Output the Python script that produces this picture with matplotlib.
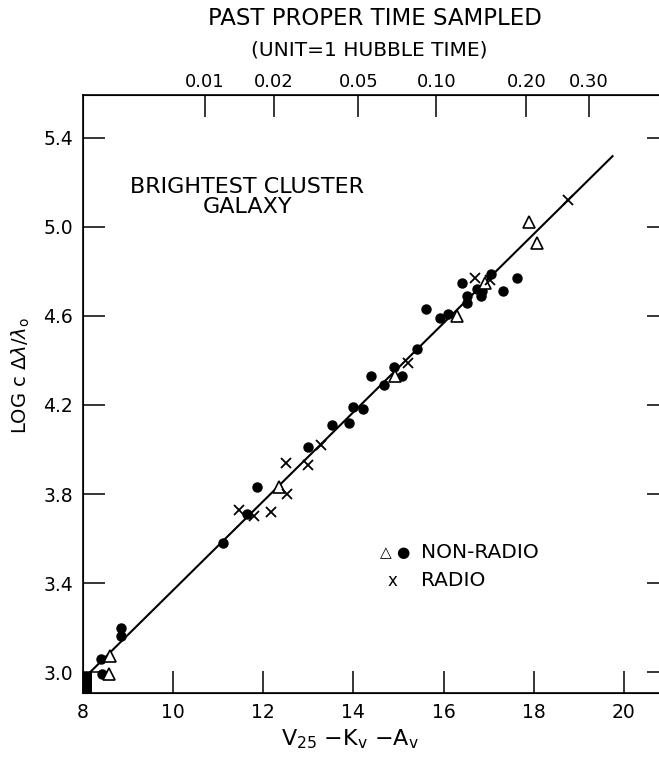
"""
Hubble diagram for brightest cluster galaxies: log cz versus corrected magnitude.
"""

import matplotlib

matplotlib.use("Agg")
import matplotlib.pyplot as plt
from matplotlib.patches import Rectangle

# Non-radio galaxies, filled circles
dots_x = [8.39, 8.42, 8.84, 8.84, 11.10, 11.64, 11.87, 13.00, 13.53, 13.91, 14.00, 14.22,
          14.40, 14.67, 14.89, 15.07, 15.42, 15.60, 15.93, 16.09, 16.42, 16.51, 16.53,
          16.75, 16.82, 16.86, 17.06, 17.31, 17.62]
dots_y = [3.06, 2.99, 3.20, 3.16, 3.58, 3.71, 3.83, 4.01, 4.11, 4.12, 4.19, 4.18,
          4.33, 4.29, 4.37, 4.33, 4.45, 4.63, 4.59, 4.61, 4.75, 4.69, 4.66,
          4.72, 4.69, 4.71, 4.79, 4.71, 4.77]

# Non-radio galaxies, open triangles
tri_x = [8.60, 8.58, 12.34, 14.93, 16.29, 16.93, 17.89, 18.07]
tri_y = [3.07, 2.99, 3.83, 4.33, 4.60, 4.75, 5.02, 4.93]

# Radio galaxies, crosses
radio_x = [11.45, 11.80, 12.16, 12.53, 12.51, 13.00, 13.27, 15.22, 16.69, 17.04, 18.76]
radio_y = [3.73, 3.70, 3.72, 3.80, 3.94, 3.93, 4.02, 4.39, 4.77, 4.76, 5.12]

# Fitted line, slope 0.2
fit_x = [8.15, 19.75]
fit_slope = 0.2
fit_icpt = 1.368

# Pile of points at the faint corner (drawn as a solid block)
block_x0, block_x1 = 8.0, 8.2
block_y0, block_y1 = 2.906, 3.0

# Upper axis: past proper time sampled
time_ticks = [10.71, 12.24, 14.11, 15.84, 17.84, 19.22]
time_labels = ["0.01", "0.02", "0.05", "0.10", "0.20", "0.30"]

x_ticks = [8, 10, 12, 14, 16, 18, 20]
y_ticks = [3.0, 3.4, 3.8, 4.2, 4.6, 5.0, 5.4]

plt.rcParams["font.family"] = ["DejaVu Sans"]
plt.rcParams["mathtext.fontset"] = "dejavusans"

fig = plt.figure(figsize=(6.59, 7.61), dpi=100)
# the right spine falls just outside the page, as in the scan
ax = fig.add_axes([0.126, 0.0894, 0.889, 0.7858])

ax.set_xlim(8, 21)
ax.set_ylim(2.906, 5.593)

# fitted line
fit_y = [fit_slope * x + fit_icpt for x in fit_x]
ax.plot(fit_x, fit_y, color="black", linewidth=1.5, zorder=2)

ax.add_patch(Rectangle((block_x0, block_y0), block_x1 - block_x0, block_y1 - block_y0,
                       facecolor="black", edgecolor="none", zorder=3))

ax.plot(dots_x, dots_y, "o", color="black", markersize=6.5, zorder=4)
ax.plot(tri_x, tri_y, "^", markerfacecolor="white", markeredgecolor="black",
        markersize=9, markeredgewidth=1.2, zorder=4)
ax.plot(radio_x, radio_y, "x", color="black", markersize=7, markeredgewidth=1.3, zorder=4)

# ticks and frame
for side in ["left", "right", "top", "bottom"]:
    ax.spines[side].set_linewidth(1.2)
ax.set_xticks(x_ticks)
ax.set_xticklabels([str(v) for v in x_ticks])
ax.set_yticks(y_ticks)
ax.set_yticklabels([f"{v:.1f}" for v in y_ticks])
ax.tick_params(axis="both", direction="in", length=16, width=1.1, labelsize=13.5)
ax.tick_params(axis="x", pad=7)
ax.tick_params(axis="y", right=True, pad=7)

top = ax.twiny()
top.set_xlim(ax.get_xlim())
top.set_xticks(time_ticks)
top.set_xticklabels(time_labels)
top.tick_params(axis="x", direction="in", length=16, width=1.1, labelsize=13, pad=3)

# annotations
ax.text(11.64, 5.135, "BRIGHTEST CLUSTER\nGALAXY", ha="center", va="center",
        fontsize=16, linespacing=1.0)
ax.text(14.71, 3.535, "△", ha="center", va="center", fontsize=11)
ax.text(15.10, 3.535, "●", ha="center", va="center", fontsize=11)
ax.text(15.49, 3.535, "NON-RADIO", ha="left", va="center", fontsize=14.5)
ax.text(14.87, 3.41, "x", ha="center", va="center", fontsize=12)
ax.text(15.49, 3.41, "RADIO", ha="left", va="center", fontsize=14.5)

fig.text(0.569, 0.976, "PAST PROPER TIME SAMPLED", ha="center", va="center", fontsize=16.5)
fig.text(0.561, 0.934, "(UNIT=1 HUBBLE TIME)", ha="center", va="center", fontsize=14.5)
fig.text(0.531, 0.021, r"V$_{25}$ $-$K$_{\mathrm{v}}$ $-$A$_{\mathrm{v}}$", ha="center",
         va="baseline", fontsize=16)
fig.text(0.032, 0.507, r"LOG c $\Delta\lambda/\lambda_{\mathrm{o}}$", ha="center", va="center",
         rotation=90, fontsize=14)

fig.savefig("out.png", dpi=100, facecolor="white")
